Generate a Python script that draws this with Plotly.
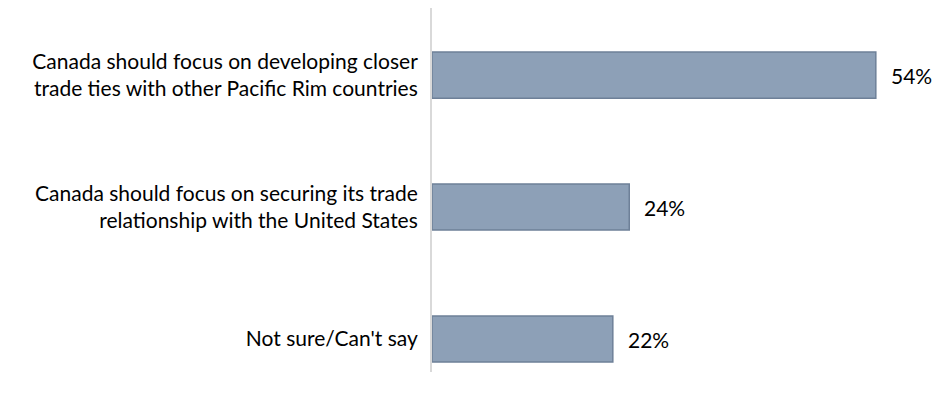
import plotly.graph_objects as go

categories = [
    "Canada should focus on developing closer<br>trade ties with other Pacific Rim countries",
    "Canada should focus on securing its trade<br>relationship with the United States",
    "Not sure/Can't say",
]
values = [54, 24, 22]
labels = [f"{v}%" for v in values]
positions = list(range(len(categories)))

FONT = "Lato"
FS = 21

fig = go.Figure()
fig.add_trace(go.Bar(
    y=positions, x=values, orientation="h", width=0.35,
    marker=dict(color="#8DA0B7", line=dict(color="#6E8098", width=1.5)),
    hoverinfo="skip",
))
for p, v, t in zip(positions, values, labels):
    fig.add_annotation(x=v, y=p, text=t, showarrow=False, xanchor="left",
                       xshift=13, font=dict(family=FONT, size=FS, color="#000000"))

fig.update_layout(
    width=935, height=401,
    margin=dict(l=432, r=0, t=8, b=29),
    paper_bgcolor="white", plot_bgcolor="white",
    showlegend=False,
    font=dict(family=FONT, size=FS, color="#000000"),
    xaxis=dict(range=[0, 61.2], visible=False, fixedrange=True),
    yaxis=dict(range=[2.25, -0.508], tickvals=positions, ticktext=categories,
               showline=True, linecolor="#D9D9D9", linewidth=2,
               showgrid=False, zeroline=False, ticks="", ticklabelstandoff=8,
               fixedrange=True),
)
fig.write_html("out.html")
